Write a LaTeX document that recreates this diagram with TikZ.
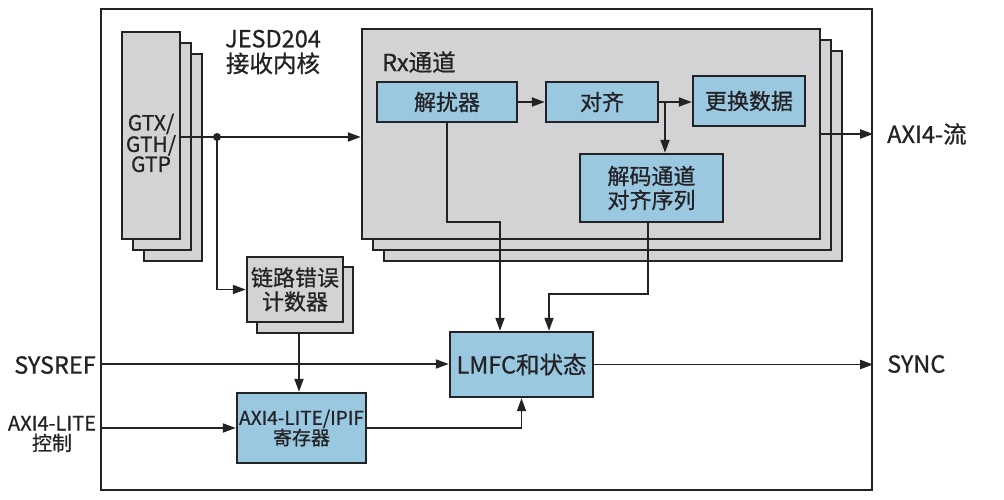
\documentclass[tikz,border=0pt]{standalone}
\usepackage{fontspec}
\setmainfont{Noto Sans CJK SC}[FakeBold=0.8]
\usetikzlibrary{arrows.meta}
\definecolor{boxblue}{RGB}{155,200,225}
\definecolor{boxgray}{RGB}{211,211,213}
\definecolor{ink}{RGB}{35,35,38}
\begin{document}
\begin{tikzpicture}[x=1pt,y=-1pt,
  fbig/.style={font=\fontsize{23.5}{25}\selectfont},
  fblk/.style={font=\fontsize{22}{24}\selectfont},
  fgt/.style={font=\fontsize{21}{20}\selectfont},
  fsm/.style={font=\fontsize{19}{20}\selectfont},
  fout/.style={font=\fontsize{20}{20}\selectfont},
  blk/.style={draw=ink,line width=2.4pt,inner sep=0pt,align=center,text=ink},
  gbox/.style={blk,fill=boxgray},
  bbox/.style={blk,fill=boxblue},
  arr/.style={draw=ink,line width=1.8pt,-{Triangle[length=13pt,width=9pt]}},
  ln/.style={draw=ink,line width=1.8pt},
  lbl/.style={text=ink,inner sep=0pt,align=center}]
\useasboundingbox (0,0) rectangle (1004,500);
\fill[white] (0,0) rectangle (1004,500);
% outer frame
\node[blk,minimum width=771pt,minimum height=481pt] (outer) at (486.5,249.5) {};
% GTX stack
\node[gbox,minimum width=58pt,minimum height=207pt] (gtx3) at (173,157.5) {};
\node[gbox,minimum width=58pt,minimum height=207pt] (gtx2) at (162,146.5) {};
\node[gbox,minimum width=58pt,minimum height=207pt] (gtx) at (151,135.5) {};
\node[lbl,fgt] (gtxt) at (151,143) {GTX/\\GTH/\\GTP};
% JESD label
\node[lbl,fbig] (core) at (273,52) {JESD204\\接收内核};
% Rx stack
\node[gbox,minimum width=458pt,minimum height=210pt] (rx3) at (613,156) {};
\node[gbox,minimum width=458pt,minimum height=210pt] (rx2) at (602,145) {};
\node[gbox,minimum width=458pt,minimum height=210pt] (rx) at (591,134) {};
\node[lbl,fbig,anchor=west] (rxlbl) at (382,62) {Rx通道};
% inner blocks
\node[bbox,fblk,minimum width=140pt,minimum height=40pt] (desc) at (447,102) {解扰器};
\node[bbox,fblk,minimum width=112pt,minimum height=40pt] (align) at (602,102) {对齐};
\node[bbox,fblk,minimum width=112pt,minimum height=50pt] (swap) at (749,101) {更换数据};
\node[bbox,fblk,minimum width=143pt,minimum height=68pt] (lane) at (651.5,188) {解码通道\\对齐序列};
% link error counter
\node[gbox,minimum width=96pt,minimum height=66pt] (lecb) at (305,300) {};
\node[gbox,fblk,minimum width=96pt,minimum height=65pt] (lec) at (295,289.5) {链路错误\\计数器};
% AXI regs & LMFC
\node[bbox,fsm,minimum width=129pt,minimum height=70pt] (axi) at (301.5,428) {AXI4-LITE/IPIF\\寄存器};
\node[bbox,fbig,minimum width=143pt,minimum height=65pt] (lmfc) at (521.5,364.5) {LMFC和状态};
% outside labels
\node[lbl,fbig] (sysref) at (55,365) {SYSREF};
\node[lbl,fout] (axil) at (52,434) {AXI4-LITE\\控制};
\node[lbl,fbig,anchor=west] (sync) at (887,364) {SYNC};
\node[lbl,fbig,anchor=west] (axis) at (887,134) {AXI4-流};
% coordinates
\coordinate (dot) at (217,137);
\coordinate (br) at (665,102);
\coordinate (sysin) at (101,364);
% connectors
\draw[ln] (gtx.east |- dot) -- (dot);
\draw[arr] (dot) -- (rx.west |- dot);
\fill[ink] (dot) circle (4pt);
\draw[arr] (dot) |- (lec.west);
\draw[arr] (lecb.south -| 299,0) -- (axi.north -| 299,0);
\draw[arr] (sysin) -- (lmfc.west |- sysin);
\draw[arr] (outer.west |- axi.west) -- (axi.west);
\draw[arr] (axi.east) -| (lmfc.south);
\draw[arr] (desc.east) -- (align.west);
\draw[arr] (align.east) -- (swap.west |- align.east);
\draw[arr] (br) -- (lane.north -| br);
\draw[arr] (desc.south) -- ++(0,99) -| ([xshift=-21.5pt]lmfc.north);
\draw[arr] ([xshift=-3.5pt]lane.south) -- ++(0,71) -| ([xshift=27.5pt]lmfc.north);
\draw[arr] (rx.east) -- (rx.east -| outer.east);
\draw[arr] (lmfc.east) -- (lmfc.east -| outer.east);
\end{tikzpicture}
\end{document}
